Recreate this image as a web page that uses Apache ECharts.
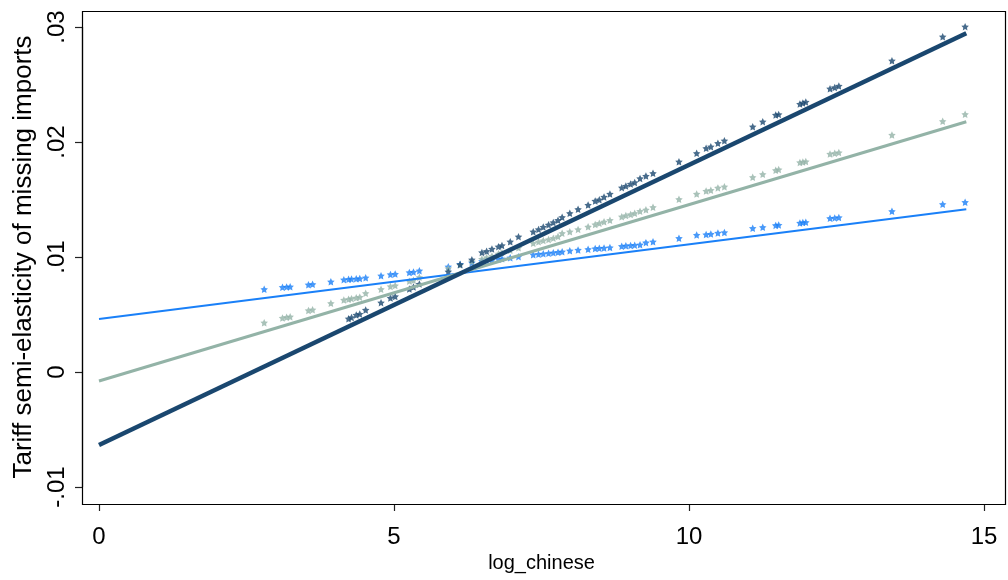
<!DOCTYPE html>
<html>
<head>
<meta charset="utf-8">
<script src="https://cdn.jsdelivr.net/npm/echarts@6/dist/echarts.min.js"></script>
<style>
  html, body { margin: 0; padding: 0; background: #fff; }
  #main { width: 1008px; height: 580px; }
</style>
</head>
<body>
<div id="main"></div>
<script>
// log_chinese values shared by all three groups
const logChinese = [
  2.80, 3.11, 3.18, 3.24, 3.55, 3.62, 3.93, 4.15, 4.23, 4.28,
  4.36, 4.42, 4.52, 4.78, 4.94, 5.02, 5.26, 5.33, 5.43, 5.92,
  6.12, 6.32, 6.49, 6.57, 6.66, 6.77, 6.83, 6.97, 7.11, 7.36,
  7.45, 7.53, 7.62, 7.70, 7.78, 7.85, 7.98, 8.12, 8.29, 8.41,
  8.48, 8.56, 8.66, 8.86, 8.93, 9.01, 9.08, 9.17, 9.27, 9.39,
  9.83, 10.13, 10.29, 10.37, 10.49, 10.60, 11.08, 11.25, 11.47, 11.52,
  11.88, 11.93, 11.98, 12.39, 12.47, 12.54, 13.44, 14.30, 14.68
];

const blueVals = [
  .00719, .00737, .00740, .00742, .00759, .00762, .00785, .00803, .00806, .00808,
  .00810, .00812, .00820, .00837, .00848, .00852, .00866, .00869, .00881, .00916,
  .00937, .00950, .00964, .00968, .00972, .00981, .00985, .00994, .01003, .01020,
  .01024, .01028, .01033, .01037, .01042, .01046, .01055, .01061, .01067, .01073,
  .01076, .01079, .01082, .01094, .01097, .01100, .01103, .01107, .01125, .01133,
  .01163, .01191, .01195, .01199, .01209, .01213, .01250, .01258, .01275, .01278,
  .01296, .01299, .01302, .01336, .01340, .01344, .01397, .01458, .01476
];

const grayVals = [
  .00429, .00470, .00476, .00481, .00535, .00542, .00597, .00626, .00632, .00638,
  .00645, .00651, .00684, .00719, .00744, .00752, .00790, .00798, .00823, .00900,
  .00930, .00960, .00982, .00995, .01008, .01028, .01037, .01058, .01080, .01120,
  .01132, .01143, .01152, .01164, .01178, .01206, .01220, .01240, .01262, .01282,
  .01294, .01306, .01320, .01350, .01360, .01370, .01380, .01398, .01410, .01432,
  .01502, .01548, .01573, .01581, .01601, .01611, .01693, .01719, .01754, .01760,
  .01822, .01826, .01830, .01896, .01902, .01908, .02061, .02180, .02241
];

const navyVals = [
  null, null, null, null, null, null, null, null, .00463, .00474,
  .00496, .00504, .00539, .00603, .00643, .00657, .00722, .00739, .00765, .00872,
  .00935, .00976, .01039, .01050, .01070, .01090, .01100, .01133, .01177, .01220,
  .01240, .01260, .01280, .01300, .01320, .01345, .01380, .01415, .01452, .01487,
  .01498, .01522, .01548, .01603, .01617, .01635, .01648, .01683, .01704, .01728,
  .01829, .01902, .01945, .01959, .01989, .02011, .02133, .02177, .02235, .02240,
  .02330, .02339, .02348, .02463, .02474, .02487, .02707, .02916, .03003
];

// fitted lines: value at x = 0 and at the last x
const fitX = [0, 14.7];
const blueFit = [0.00461, 0.01415];
const grayFit = [-0.00078, 0.02176];
const navyFit = [-0.00635, 0.02945];

const xTicks = [0, 5, 10, 15];
const yTicks = [-0.01, 0, 0.01, 0.02, 0.03];

const STAR = 'path://M0,-10 L2.9,-4 9.5,-3.1 4.7,1.5 5.9,8.1 0,5 -5.9,8.1 -4.7,1.5 -9.5,-3.1 -2.9,-4 Z';
const NAVY = '#1a476f', GRAY = '#93b3a7', BLUE = '#1a80f8';

function pairs(xs, ys) {
  const out = [];
  xs.forEach((x, i) => { if (ys[i] != null) out.push([x, ys[i]]); });
  return out;
}
function fitLine(v) {
  return fitX.map((x, i) => [x, v[i]]);
}
function fmtY(v) {
  if (Math.abs(v) < 1e-9) return '0';
  const s = v.toFixed(2);
  return s.replace('0.', '.');
}

const chart = echarts.init(document.getElementById('main'));
const font = 'Liberation Sans, Arial, sans-serif';

chart.setOption({
  animation: false,
  backgroundColor: '#fff',
  graphic: [{
    type: 'rect',
    shape: { x: 82.5, y: 11.5, width: 923, height: 493 },
    style: { fill: 'none', stroke: '#000', lineWidth: 1.2 },
    z: 10
  }],
  grid: { left: 99, right: 24, top: 27, bottom: 93, containLabel: false, outerBoundsMode: 'none' },
  xAxis: {
    type: 'value',
    min: xTicks[0],
    max: xTicks[xTicks.length - 1],
    interval: 5,
    offset: 17,
    name: 'log_chinese',
    nameLocation: 'middle',
    nameGap: 49,
    nameTextStyle: { color: '#000', fontSize: 20, fontFamily: font },
    axisLine: { show: true, onZero: false, lineStyle: { color: '#000', width: 1.2 } },
    axisTick: { show: true, length: 7, lineStyle: { color: '#222', width: 1.2 } },
    axisLabel: { color: '#000', fontSize: 24, fontFamily: font, margin: 21 },
    splitLine: { show: false }
  },
  yAxis: {
    type: 'value',
    min: yTicks[0],
    max: yTicks[yTicks.length - 1],
    interval: 0.01,
    offset: 17,
    name: 'Tariff semi-elasticity of missing imports',
    nameLocation: 'middle',
    nameGap: 45,
    nameRotate: 90,
    nameTextStyle: { color: '#000', fontSize: 26, fontFamily: font },
    axisLine: { show: true, onZero: false, lineStyle: { color: '#000', width: 1.2 } },
    axisTick: { show: true, length: 7, lineStyle: { color: '#222', width: 1.2 } },
    axisLabel: {
      color: '#000', fontSize: 24, fontFamily: font, rotate: 90, margin: 13,
      formatter: fmtY
    },
    splitLine: { show: false }
  },
  series: [
    { type: 'scatter', data: pairs(logChinese, blueVals), symbol: STAR, symbolSize: 7.5,
      itemStyle: { color: BLUE }, clip: false },
    { type: 'scatter', data: pairs(logChinese, grayVals), symbol: STAR, symbolSize: 7.5,
      itemStyle: { color: GRAY }, clip: false },
    { type: 'scatter', data: pairs(logChinese, navyVals), symbol: STAR, symbolSize: 7.5,
      itemStyle: { color: NAVY }, clip: false },
    { type: 'line', data: fitLine(blueFit), showSymbol: false, symbol: 'none',
      lineStyle: { color: BLUE, width: 2.2 }, z: 3 },
    { type: 'line', data: fitLine(grayFit), showSymbol: false, symbol: 'none',
      lineStyle: { color: GRAY, width: 3 }, z: 3 },
    { type: 'line', data: fitLine(navyFit), showSymbol: false, symbol: 'none',
      lineStyle: { color: NAVY, width: 4.5 }, z: 3 }
  ]
});
</script>
</body>
</html>
